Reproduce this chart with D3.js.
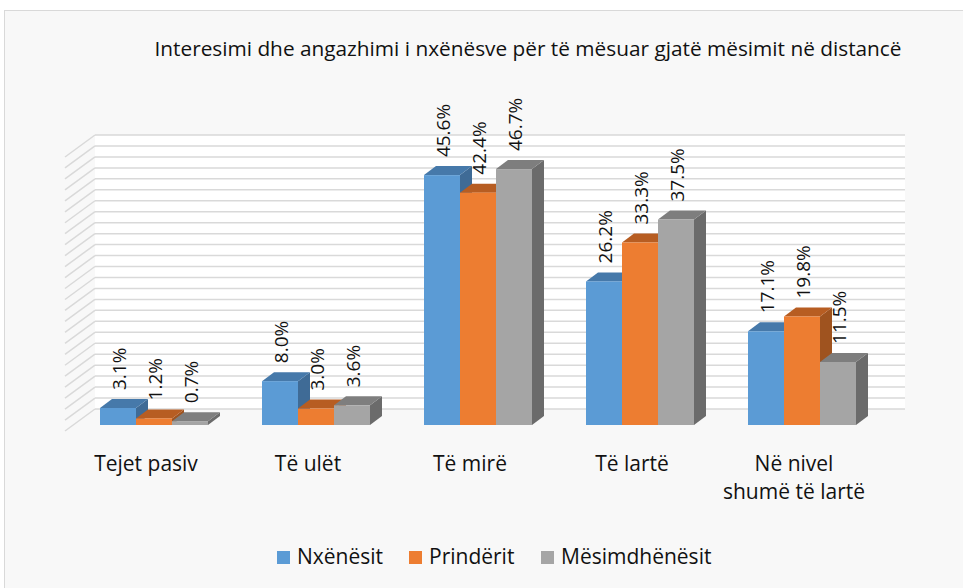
<!DOCTYPE html>
<html>
<head>
<meta charset="utf-8">
<script src="https://cdn.jsdelivr.net/npm/d3@7"></script>
<style>
  body { margin: 0; background: #fff; }
  text { font-family: "Open Sans", sans-serif; fill: #111; }
</style>
</head>
<body>
<svg id="chart" width="963" height="588"></svg>
<script>
// chart data
let categories = ["Tejet pasiv", "Të ulët", "Të mirë", "Të lartë", "Në nivel shumë të lartë"];
let category_lines = [["Tejet pasiv"], ["Të ulët"], ["Të mirë"], ["Të lartë"], ["Në nivel", "shumë të lartë"]];
let series = ["Nxënësit", "Prindërit", "Mësimdhënësit"];
let nxenesit = [3.1, 8.0, 45.6, 26.2, 17.1];
let prinderit = [1.2, 3.0, 42.4, 33.3, 19.8];
let mesimdhenesit = [0.7, 3.6, 46.7, 37.5, 11.5];
let y_ticks = d3.range(0, 51, 2);
let title = "Interesimi dhe angazhimi i nxënësve për të mësuar gjatë mësimit në distancë";

let values = [nxenesit, prinderit, mesimdhenesit];
// front / top / side colours for each series
let colors = [
  { front: "#5b9bd5", top: "#4679aa", side: "#3f6b96" },
  { front: "#ed7d31", top: "#b75d22", side: "#9f531f" },
  { front: "#a5a5a5", top: "#7e7e7e", side: "#6b6b6b" }
];

let svg = d3.select("#chart");

// chart area background
svg.append("rect")
  .attr("x", 4.5).attr("y", 10.5)
  .attr("width", 970).attr("height", 600)
  .style("fill", "#f8f8f8")
  .style("stroke", "#d9d9d9");

// back wall + depth vectors (3D look)
let wall = { left: 95, right: 905 };
let depth = { dx: -30, dy: 22 };       // back wall -> front of floor
let bar_front = { dx: -22, dy: 16 };   // back wall -> bar front face
let bar_back = { dx: -10, dy: 7 };     // back wall -> bar back face

let y = d3.scaleLinear().domain([0, 50]).range([409, 135]);
let x = d3.scaleBand().domain(categories).range([wall.left, wall.right])
  .paddingInner(1/3).paddingOuter(1/6);
let xs = d3.scaleBand().domain(series).range([0, x.bandwidth()]);

// white back wall
svg.append("rect")
  .attr("x", wall.left).attr("y", y(50))
  .attr("width", wall.right - wall.left).attr("height", y(0) - y(50))
  .style("fill", "#fff");

// gridlines on the back wall and the left side wall
let grid = svg.append("g").style("stroke", "#d9d9d9").style("stroke-width", 1.5);
for(let t of y_ticks) {
  grid.append("line")
    .attr("x1", wall.left).attr("x2", wall.right)
    .attr("y1", y(t)).attr("y2", y(t));
  grid.append("line")
    .attr("x1", wall.left).attr("y1", y(t))
    .attr("x2", wall.left + depth.dx).attr("y2", y(t) + depth.dy);
}

// bars, drawn left to right so the next front face covers the previous side
let bars = svg.append("g");
let labels = [];
categories.forEach((c, ci) => {
  series.forEach((s, si) => {
    let v = values[si][ci]
      , x0 = x(c) + xs(s) + bar_front.dx
      , x1 = x0 + xs.bandwidth()
      , yt = y(v) + bar_front.dy
      , yb = y(0) + bar_front.dy
      , ox = bar_back.dx - bar_front.dx
      , oy = bar_back.dy - bar_front.dy
      , col = colors[si];
    // side face
    bars.append("path")
      .attr("d", `M${x1},${yt}L${x1+ox},${yt+oy}L${x1+ox},${yb+oy}L${x1},${yb}Z`)
      .style("fill", col.side);
    // top face
    bars.append("path")
      .attr("d", `M${x0},${yt}L${x0+ox},${yt+oy}L${x1+ox},${yt+oy}L${x1},${yt}Z`)
      .style("fill", col.top);
    // front face
    bars.append("rect")
      .attr("x", x0).attr("y", yt)
      .attr("width", xs.bandwidth()).attr("height", yb - yt)
      .style("fill", col.front);
    labels.push({ x: (x0 + x1) / 2 + 1, y: yt + oy - 9, text: v.toFixed(1) + "%" });
  });
});

// data labels (rotated)
svg.append("g").selectAll("text").data(labels).join("text")
  .attr("transform", d => `translate(${d.x},${d.y}) rotate(-90)`)
  .attr("dominant-baseline", "central")
  .style("font-size", "19px")
  .text(d => d.text);

// category labels
categories.forEach((c, ci) => {
  let t = svg.append("text")
    .attr("text-anchor", "middle")
    .style("font-size", "21px");
  category_lines[ci].forEach((line, li) => {
    t.append("tspan")
      .attr("x", x(c) + x.bandwidth() / 2 + depth.dx)
      .attr("y", 471 + li * 28)
      .text(line);
  });
});

// title
svg.append("text")
  .attr("x", 528).attr("y", 56)
  .attr("text-anchor", "middle")
  .style("font-size", "20.8px")
  .text(title);

// legend
let legend_x = [277, 409, 541];
series.forEach((s, si) => {
  svg.append("rect")
    .attr("x", legend_x[si]).attr("y", 551)
    .attr("width", 13).attr("height", 13)
    .style("fill", colors[si].front);
  svg.append("text")
    .attr("x", legend_x[si] + 20).attr("y", 564)
    .style("font-size", "21px")
    .text(s);
});
</script>
</body>
</html>
